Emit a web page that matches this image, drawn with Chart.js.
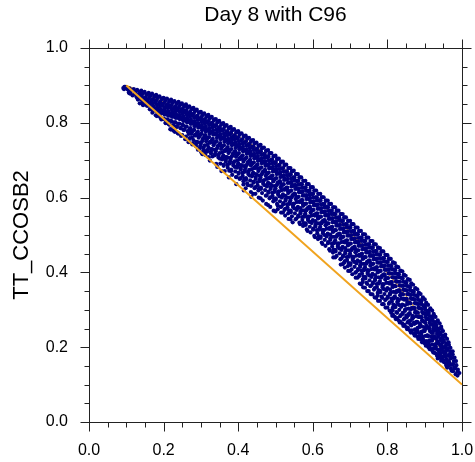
<!DOCTYPE html>
<html><head><meta charset="utf-8">
<script src="https://cdn.jsdelivr.net/npm/chart.js@4.4.1/dist/chart.umd.min.js"></script>
<style>html,body{margin:0;padding:0;background:#fff;} canvas{display:block;}</style>
</head><body>
<canvas id="c" width="475" height="462"></canvas>
<script>
const titleText = 'Day 8 with C96';
const yTitle = 'TT_CCOSB2';
const majorTicks = [0, 0.2, 0.4, 0.6, 0.8, 1.0];
const minorTicks = [0.05,0.1,0.15,0.25,0.3,0.35,0.45,0.5,0.55,0.65,0.7,0.75,0.85,0.9,0.95];
const refLine = [[0.1,0.9],[1.0,0.1]];
const innerCurve = [[0.1,0.9],[0.2,0.855],[0.3,0.81],[0.42,0.752],[0.52,0.678],[0.6,0.605],[0.69,0.518],[0.79,0.41],[0.85,0.337],[0.9,0.265],[0.95,0.185],[0.985,0.14]];
const cloudA = [
[.092,.893],[.095,.896],[.094,.890],
[.100,.894],[.104,.889],[.097,.896],
[.109,.892],[.115,.886],[.108,.879],
[.120,.890],[.124,.881],[.117,.873],
[.129,.888],[.135,.878],[.128,.870],[.131,.862],
[.140,.886],[.144,.877],[.137,.868],[.142,.860],[.136,.852],
[.149,.883],[.155,.874],[.148,.866],[.151,.856],[.145,.847],
[.160,.880],[.164,.871],[.157,.862],[.162,.853],[.156,.845],[.163,.836],
[.169,.878],[.175,.869],[.168,.861],[.171,.851],[.165,.842],[.173,.833],[.170,.827],
[.180,.875],[.184,.866],[.177,.858],[.182,.848],[.176,.839],[.183,.829],[.179,.820],
[.189,.871],[.195,.863],[.188,.853],[.191,.844],[.185,.836],[.193,.826],[.190,.817],[.194,.809],
[.200,.867],[.204,.858],[.197,.850],[.202,.840],[.196,.831],[.203,.822],[.199,.811],[.205,.800],
[.209,.865],[.215,.856],[.208,.847],[.211,.839],[.205,.829],[.213,.819],[.210,.809],[.214,.796],
[.220,.862],[.224,.853],[.217,.845],[.222,.835],[.216,.826],[.223,.816],[.219,.806],[.225,.794],[.218,.783],
[.229,.858],[.235,.850],[.228,.840],[.231,.831],[.225,.823],[.233,.813],[.230,.801],[.234,.790],[.227,.779],
[.240,.856],[.244,.847],[.237,.838],[.242,.830],[.236,.820],[.243,.810],[.239,.797],[.245,.786],[.238,.772],
[.249,.852],[.255,.843],[.248,.835],[.251,.825],[.245,.816],[.253,.805],[.250,.795],[.254,.781],[.247,.765],
[.260,.849],[.264,.840],[.257,.832],[.262,.822],[.256,.812],[.263,.801],[.259,.790],[.265,.777],[.258,.756],
[.269,.844],[.275,.836],[.268,.826],[.271,.817],[.265,.808],[.273,.797],[.270,.784],[.274,.770],[.267,.748],
[.280,.840],[.284,.831],[.277,.823],[.282,.813],[.276,.803],[.283,.791],[.279,.780],[.285,.766],[.278,.745],
[.289,.835],[.295,.827],[.288,.817],[.291,.808],[.285,.799],[.293,.787],[.290,.774],[.294,.760],[.287,.743],[.292,.728],
[.300,.829],[.304,.820],[.297,.812],[.302,.802],[.296,.792],[.303,.780],[.299,.769],[.305,.756],[.298,.738],[.301,.721],
[.309,.825],[.315,.816],[.308,.808],[.311,.798],[.305,.787],[.313,.777],[.310,.766],[.314,.751],[.307,.734],[.312,.714],
[.320,.821],[.324,.812],[.317,.803],[.322,.794],[.316,.783],[.323,.771],[.319,.760],[.325,.747],[.318,.728],[.321,.708],
[.329,.816],[.335,.807],[.328,.799],[.331,.788],[.325,.778],[.333,.768],[.330,.755],[.334,.740],[.327,.723],
[.340,.810],[.344,.801],[.337,.793],[.342,.782],[.336,.772],[.343,.760],[.339,.749],[.345,.736],[.338,.717],[.341,.690],
[.349,.805],[.355,.796],[.348,.787],[.351,.778],[.345,.767],[.353,.756],[.350,.743],[.354,.730],[.347,.712],[.352,.691],
[.360,.799],[.364,.790],[.357,.782],[.362,.771],[.356,.761],[.363,.749],[.359,.738],[.365,.725],[.358,.707],[.361,.685],[.355,.671],
[.369,.794],[.375,.785],[.368,.776],[.371,.767],[.365,.756],[.373,.745],[.370,.732],[.374,.719],[.367,.702],[.372,.680],
[.380,.789],[.384,.780],[.377,.771],[.382,.761],[.376,.752],[.383,.740],[.379,.728],[.385,.713],[.378,.697],[.381,.675],[.375,.654],
[.389,.783],[.395,.774],[.388,.765],[.391,.756],[.385,.745],[.393,.733],[.390,.722],[.394,.709],[.387,.691],[.392,.670],
[.400,.778],[.404,.769],[.397,.760],[.402,.750],[.396,.741],[.403,.729],[.399,.716],[.405,.703],[.398,.686],[.401,.664],[.395,.636],
[.409,.772],[.415,.763],[.408,.754],[.411,.744],[.405,.734],[.413,.724],[.410,.711],[.414,.696],[.407,.680],[.412,.658],
[.420,.766],[.424,.757],[.417,.748],[.422,.739],[.416,.728],[.423,.717],[.419,.704],[.425,.691],[.418,.674],[.421,.652],[.415,.619],
[.429,.760],[.435,.751],[.428,.742],[.431,.732],[.425,.723],[.433,.711],[.430,.699],[.434,.686],[.427,.668],[.432,.646],
[.440,.754],[.444,.745],[.437,.736],[.442,.727],[.436,.716],[.443,.705],[.439,.692],[.445,.679],[.438,.662],[.441,.640],[.435,.602],
[.449,.747],[.455,.738],[.448,.730],[.451,.719],[.445,.709],[.453,.698],[.450,.686],[.454,.671],[.447,.655],[.452,.633],[.446,.610],
[.460,.741],[.464,.732],[.457,.723],[.462,.714],[.456,.703],[.463,.692],[.459,.679],[.465,.666],[.458,.649],[.461,.627],[.455,.600],
[.469,.734],[.475,.725],[.468,.716],[.471,.706],[.465,.697],[.473,.685],[.470,.673],[.474,.658],[.467,.642],[.472,.620],[.466,.592],
[.480,.727],[.484,.718],[.477,.710],[.482,.699],[.476,.689],[.483,.678],[.479,.665],[.485,.652],[.478,.635],[.481,.613],[.475,.583],
[.489,.719],[.495,.710],[.488,.701],[.491,.692],[.485,.681],[.493,.670],[.490,.658],[.494,.643],[.487,.627],[.492,.605],[.486,.575],
[.500,.712],[.504,.703],[.497,.694],[.502,.684],[.496,.675],[.503,.663],[.499,.650],[.505,.637],[.498,.620],[.501,.598],[.495,.565],
[.509,.704],[.515,.695],[.508,.687],[.511,.676],[.505,.666],[.513,.655],[.510,.643],[.514,.628],[.507,.612],[.512,.590],[.506,.569],
[.520,.696],[.524,.687],[.517,.678],[.522,.669],[.516,.658],[.523,.647],[.519,.634],[.525,.621],[.518,.604],[.521,.582],[.515,.560],
[.529,.688],[.535,.679],[.528,.670],[.531,.660],[.525,.651],[.533,.639],[.530,.627],[.534,.612],[.527,.596],[.532,.574],[.526,.552],
[.540,.679],[.544,.670],[.537,.662],[.542,.651],[.536,.641],[.543,.630],[.539,.617],[.545,.604],[.538,.587],[.541,.565],[.535,.543],
[.549,.672],[.555,.663],[.548,.654],[.551,.645],[.545,.634],[.553,.623],[.550,.611],[.554,.596],[.547,.580],[.552,.558],[.546,.534],
[.560,.663],[.564,.654],[.557,.645],[.562,.635],[.556,.626],[.563,.614],[.559,.601],[.565,.588],[.558,.571],[.561,.549],
[.569,.654],[.575,.645],[.568,.637],[.571,.626],[.565,.616],[.573,.605],[.570,.593],[.574,.578],[.567,.562],[.572,.540],[.566,.529],
[.580,.645],[.584,.636],[.577,.627],[.582,.618],[.576,.607],[.583,.596],[.579,.583],[.585,.570],[.578,.553],[.581,.531],
[.589,.636],[.595,.627],[.588,.618],[.591,.608],[.585,.599],[.593,.587],[.590,.575],[.594,.560],[.587,.544],[.592,.522],[.586,.511],
[.600,.628],[.604,.619],[.597,.611],[.602,.600],[.596,.590],[.603,.579],[.599,.567],[.605,.552],[.598,.536],[.601,.514],
[.609,.619],[.615,.610],[.608,.601],[.611,.592],[.605,.581],[.613,.570],[.610,.557],[.614,.544],[.607,.527],[.612,.505],[.606,.494],
[.620,.610],[.624,.601],[.617,.593],[.622,.582],[.616,.572],[.623,.561],[.619,.549],[.625,.534],[.618,.518],[.621,.496],
[.629,.601],[.635,.592],[.628,.583],[.631,.574],[.625,.563],[.633,.552],[.630,.539],[.634,.526],[.627,.509],[.632,.487],[.626,.476],
[.640,.592],[.644,.583],[.637,.575],[.642,.564],[.636,.554],[.643,.543],[.639,.531],[.645,.516],[.638,.500],[.641,.478],
[.649,.583],[.655,.574],[.648,.565],[.651,.556],[.645,.545],[.653,.534],[.650,.521],[.654,.508],[.647,.491],[.652,.469],[.646,.458],
[.660,.574],[.664,.565],[.657,.557],[.662,.546],[.656,.536],[.663,.525],[.659,.513],[.665,.498],[.658,.482],[.661,.460],[.655,.440],
[.669,.565],[.675,.556],[.668,.547],[.671,.538],[.665,.527],[.673,.516],[.670,.503],[.674,.490],[.667,.473],[.672,.451],
[.680,.556],[.684,.547],[.677,.539],[.682,.528],[.676,.518],[.683,.507],[.679,.495],[.685,.480],[.678,.464],[.681,.442],[.675,.421],
[.689,.547],[.695,.538],[.688,.529],[.691,.520],[.685,.509],[.693,.498],[.690,.485],[.694,.472],[.687,.455],[.692,.433],[.686,.413],
[.700,.538],[.704,.529],[.697,.521],[.702,.510],[.696,.500],[.703,.489],[.699,.477],[.705,.462],[.698,.446],[.701,.424],[.695,.404],
[.709,.529],[.715,.520],[.708,.511],[.711,.502],[.705,.491],[.713,.480],[.710,.467],[.714,.454],[.707,.437],[.712,.415],[.706,.395],
[.720,.520],[.724,.511],[.717,.503],[.722,.492],[.716,.482],[.723,.471],[.719,.459],[.725,.444],[.718,.428],[.721,.406],[.715,.386],
[.729,.511],[.735,.502],[.728,.493],[.731,.484],[.725,.473],[.733,.462],[.730,.449],[.734,.436],[.727,.419],[.732,.397],[.726,.370],
[.740,.502],[.744,.493],[.737,.485],[.742,.474],[.736,.464],[.743,.453],[.739,.441],[.745,.426],[.738,.410],[.741,.388],[.735,.360],
[.749,.493],[.755,.484],[.748,.475],[.751,.466],[.745,.455],[.753,.444],[.750,.431],[.754,.418],[.747,.401],[.752,.379],[.746,.350],
[.760,.484],[.764,.475],[.757,.467],[.762,.456],[.756,.446],[.763,.435],[.759,.423],[.765,.408],[.758,.392],[.761,.370],[.755,.342],
[.769,.475],[.775,.466],[.768,.457],[.771,.448],[.765,.437],[.773,.426],[.770,.413],[.774,.400],[.767,.383],[.772,.361],[.766,.333],
[.780,.465],[.784,.456],[.777,.448],[.782,.437],[.776,.427],[.783,.416],[.779,.404],[.785,.389],[.778,.373],[.781,.351],[.775,.324],
[.789,.456],[.795,.447],[.788,.438],[.791,.429],[.785,.418],[.793,.407],[.790,.394],[.794,.381],[.787,.364],[.792,.342],[.786,.315],
[.800,.446],[.804,.437],[.797,.429],[.802,.418],[.796,.408],[.803,.397],[.799,.385],[.805,.370],[.798,.354],[.801,.332],[.795,.306],
[.809,.436],[.815,.427],[.808,.418],[.811,.409],[.805,.398],[.813,.387],[.810,.374],[.814,.361],[.807,.344],[.812,.322],[.806,.298],[.813,.284],
[.820,.425],[.824,.416],[.817,.408],[.822,.397],[.816,.387],[.823,.376],[.819,.364],[.825,.349],[.818,.333],[.821,.311],[.815,.287],[.823,.275],
[.829,.414],[.835,.405],[.828,.396],[.831,.387],[.825,.376],[.833,.365],[.830,.352],[.834,.339],[.827,.322],[.832,.300],[.826,.278],[.833,.266],
[.840,.403],[.844,.394],[.837,.386],[.842,.375],[.836,.365],[.843,.354],[.839,.342],[.845,.327],[.838,.311],[.841,.289],[.835,.268],[.843,.257],
[.849,.391],[.855,.382],[.848,.373],[.851,.364],[.845,.353],[.853,.342],[.850,.329],[.854,.316],[.847,.300],[.852,.280],[.846,.260],[.853,.248],
[.860,.380],[.864,.371],[.857,.363],[.862,.352],[.856,.342],[.863,.331],[.859,.319],[.865,.304],[.858,.290],[.861,.271],[.855,.252],[.863,.239],
[.869,.367],[.875,.358],[.868,.349],[.871,.340],[.865,.329],[.873,.318],[.870,.305],[.874,.293],[.867,.279],[.872,.262],[.866,.245],[.873,.231],
[.880,.355],[.884,.346],[.877,.338],[.882,.327],[.876,.317],[.883,.306],[.879,.294],[.885,.282],[.878,.268],[.881,.252],[.875,.236],[.883,.222],
[.889,.342],[.895,.333],[.888,.324],[.891,.315],[.885,.304],[.893,.294],[.890,.282],[.894,.271],[.887,.257],[.892,.242],[.886,.226],[.893,.213],
[.900,.328],[.904,.319],[.897,.311],[.902,.300],[.896,.290],[.903,.280],[.899,.268],[.905,.257],[.898,.244],[.901,.230],[.895,.216],[.903,.204],
[.909,.313],[.915,.304],[.908,.295],[.911,.286],[.905,.275],[.913,.265],[.910,.253],[.914,.243],[.907,.231],[.912,.218],[.906,.205],[.913,.195],
[.920,.298],[.924,.289],[.917,.281],[.922,.270],[.916,.260],[.923,.250],[.919,.239],[.925,.229],[.918,.218],[.921,.207],[.915,.196],[.923,.186],
[.929,.281],[.935,.272],[.928,.263],[.931,.255],[.925,.245],[.933,.235],[.930,.224],[.934,.215],[.927,.205],[.932,.195],[.926,.185],[.933,.177],
[.940,.264],[.944,.255],[.937,.247],[.942,.237],[.936,.228],[.943,.219],[.939,.209],[.945,.200],[.938,.190],[.941,.180],[.935,.170],
[.949,.243],[.955,.234],[.948,.226],[.951,.216],[.945,.207],[.953,.198],[.950,.188],[.954,.180],[.947,.170],[.952,.160],
[.960,.222],[.964,.213],[.957,.205],[.962,.195],[.956,.186],[.963,.177],[.959,.167],[.965,.159],[.958,.151],
[.969,.198],[.975,.189],[.968,.181],[.971,.171],[.965,.162],[.973,.153],[.970,.143],
[.980,.172],[.984,.163],[.977,.155],[.982,.145],[.976,.136],
[.989,.140],[.993,.131],[.988,.124]
];
const cloudB = [
[.105,.889],[.107,.882],
[.115,.887],[.111,.878],
[.125,.885],[.121,.876],[.128,.868],
[.135,.883],[.131,.874],[.138,.864],
[.145,.880],[.141,.871],[.148,.861],[.143,.852],
[.155,.877],[.151,.868],[.158,.858],[.153,.848],
[.165,.875],[.161,.866],[.168,.856],[.163,.846],[.169,.836],
[.175,.872],[.171,.863],[.178,.853],[.173,.843],[.179,.832],
[.185,.869],[.181,.860],[.188,.850],[.183,.840],[.189,.829],[.182,.818],
[.195,.865],[.191,.856],[.198,.846],[.193,.836],[.199,.825],[.192,.813],
[.205,.862],[.201,.853],[.208,.843],[.203,.833],[.209,.822],[.202,.810],[.206,.799],
[.215,.859],[.211,.850],[.218,.840],[.213,.830],[.219,.819],[.212,.807],[.216,.795],
[.225,.856],[.221,.847],[.228,.837],[.223,.827],[.229,.816],[.222,.804],[.226,.792],[.220,.782],
[.235,.853],[.231,.844],[.238,.834],[.233,.824],[.239,.813],[.232,.801],[.236,.789],[.230,.776],
[.245,.850],[.241,.841],[.248,.831],[.243,.821],[.249,.810],[.242,.798],[.246,.786],[.240,.771],
[.255,.846],[.251,.837],[.258,.827],[.253,.817],[.259,.806],[.252,.794],[.256,.782],[.250,.767],
[.265,.842],[.261,.833],[.268,.823],[.263,.813],[.269,.802],[.262,.790],[.266,.778],[.260,.763],[.267,.752],
[.275,.838],[.271,.829],[.278,.819],[.273,.809],[.279,.798],[.272,.786],[.276,.774],[.270,.759],[.277,.742],
[.285,.833],[.281,.824],[.288,.814],[.283,.804],[.289,.793],[.282,.781],[.286,.769],[.280,.754],[.287,.737],
[.295,.828],[.291,.819],[.298,.809],[.293,.799],[.299,.788],[.292,.776],[.296,.764],[.290,.749],[.297,.732],
[.305,.823],[.301,.814],[.308,.804],[.303,.794],[.309,.783],[.302,.771],[.306,.759],[.300,.744],[.307,.727],[.304,.716],
[.315,.819],[.311,.810],[.318,.800],[.313,.790],[.319,.779],[.312,.767],[.316,.755],[.310,.740],[.317,.723],
[.325,.814],[.321,.805],[.328,.795],[.323,.785],[.329,.774],[.322,.762],[.326,.750],[.320,.735],[.327,.718],[.324,.699],
[.335,.809],[.331,.800],[.338,.790],[.333,.780],[.339,.769],[.332,.757],[.336,.745],[.330,.730],[.337,.713],
[.345,.803],[.341,.794],[.348,.784],[.343,.774],[.349,.763],[.342,.751],[.346,.739],[.340,.724],[.347,.707],[.344,.682],
[.355,.798],[.351,.789],[.358,.779],[.353,.769],[.359,.758],[.352,.746],[.356,.734],[.350,.719],[.357,.702],
[.365,.792],[.361,.783],[.368,.773],[.363,.763],[.369,.752],[.362,.740],[.366,.728],[.360,.713],[.367,.696],[.364,.671],
[.375,.787],[.371,.778],[.378,.768],[.373,.758],[.379,.747],[.372,.735],[.376,.723],[.370,.708],[.377,.691],
[.385,.782],[.381,.773],[.388,.763],[.383,.753],[.389,.742],[.382,.730],[.386,.718],[.380,.703],[.387,.686],[.384,.661],
[.395,.776],[.391,.767],[.398,.757],[.393,.747],[.399,.736],[.392,.724],[.396,.712],[.390,.697],[.397,.680],[.394,.655],
[.405,.771],[.401,.762],[.408,.752],[.403,.742],[.409,.731],[.402,.719],[.406,.707],[.400,.692],[.407,.675],[.404,.650],
[.415,.765],[.411,.756],[.418,.746],[.413,.736],[.419,.725],[.412,.713],[.416,.701],[.410,.686],[.417,.669],[.414,.644],[.420,.625],
[.425,.759],[.421,.750],[.428,.740],[.423,.730],[.429,.719],[.422,.707],[.426,.695],[.420,.680],[.427,.663],[.424,.638],
[.435,.753],[.431,.744],[.438,.734],[.433,.724],[.439,.713],[.432,.701],[.436,.689],[.430,.674],[.437,.657],[.434,.632],[.440,.610],
[.445,.746],[.441,.737],[.448,.727],[.443,.717],[.449,.706],[.442,.694],[.446,.682],[.440,.667],[.447,.650],[.444,.625],
[.455,.740],[.451,.731],[.458,.721],[.453,.711],[.459,.700],[.452,.688],[.456,.676],[.450,.661],[.457,.644],[.454,.619],[.460,.598],
[.465,.733],[.461,.724],[.468,.714],[.463,.704],[.469,.693],[.462,.681],[.466,.669],[.460,.654],[.467,.637],[.464,.612],
[.475,.726],[.471,.717],[.478,.707],[.473,.697],[.479,.686],[.472,.674],[.476,.662],[.470,.647],[.477,.630],[.474,.605],[.480,.580],
[.485,.719],[.481,.710],[.488,.700],[.483,.690],[.489,.679],[.482,.667],[.486,.655],[.480,.640],[.487,.623],[.484,.598],
[.495,.711],[.491,.702],[.498,.692],[.493,.682],[.499,.671],[.492,.659],[.496,.647],[.490,.632],[.497,.615],[.494,.590],[.500,.563],
[.505,.704],[.501,.695],[.508,.685],[.503,.675],[.509,.664],[.502,.652],[.506,.640],[.500,.625],[.507,.608],[.504,.583],
[.515,.696],[.511,.687],[.518,.677],[.513,.667],[.519,.656],[.512,.644],[.516,.632],[.510,.617],[.517,.600],[.514,.575],[.520,.560],
[.525,.688],[.521,.679],[.528,.669],[.523,.659],[.529,.648],[.522,.636],[.526,.624],[.520,.609],[.527,.592],[.524,.567],
[.535,.679],[.531,.670],[.538,.660],[.533,.650],[.539,.639],[.532,.627],[.536,.615],[.530,.600],[.537,.583],[.534,.558],[.540,.542],
[.545,.671],[.541,.662],[.548,.652],[.543,.642],[.549,.631],[.542,.619],[.546,.607],[.540,.592],[.547,.575],[.544,.550],
[.555,.663],[.551,.654],[.558,.644],[.553,.634],[.559,.623],[.552,.611],[.556,.599],[.550,.584],[.557,.567],[.554,.542],
[.565,.654],[.561,.645],[.568,.635],[.563,.625],[.569,.614],[.562,.602],[.566,.590],[.560,.575],[.567,.558],[.564,.533],
[.575,.645],[.571,.636],[.578,.626],[.573,.616],[.579,.605],[.572,.593],[.576,.581],[.570,.566],[.577,.549],[.574,.524],
[.585,.636],[.581,.627],[.588,.617],[.583,.607],[.589,.596],[.582,.584],[.586,.572],[.580,.557],[.587,.540],[.584,.515],
[.595,.628],[.591,.619],[.598,.609],[.593,.599],[.599,.588],[.592,.576],[.596,.564],[.590,.549],[.597,.532],[.594,.507],
[.605,.619],[.601,.610],[.608,.600],[.603,.590],[.609,.579],[.602,.567],[.606,.555],[.600,.540],[.607,.523],[.604,.498],
[.615,.610],[.611,.601],[.618,.591],[.613,.581],[.619,.570],[.612,.558],[.616,.546],[.610,.531],[.617,.514],[.614,.489],
[.625,.601],[.621,.592],[.628,.582],[.623,.572],[.629,.561],[.622,.549],[.626,.537],[.620,.522],[.627,.505],[.624,.480],
[.635,.592],[.631,.583],[.638,.573],[.633,.563],[.639,.552],[.632,.540],[.636,.528],[.630,.513],[.637,.496],[.634,.471],
[.645,.583],[.641,.574],[.648,.564],[.643,.554],[.649,.543],[.642,.531],[.646,.519],[.640,.504],[.647,.487],[.644,.462],
[.655,.574],[.651,.565],[.658,.555],[.653,.545],[.659,.534],[.652,.522],[.656,.510],[.650,.495],[.657,.478],[.654,.453],[.660,.440],
[.665,.565],[.661,.556],[.668,.546],[.663,.536],[.669,.525],[.662,.513],[.666,.501],[.660,.486],[.667,.469],[.664,.444],
[.675,.556],[.671,.547],[.678,.537],[.673,.527],[.679,.516],[.672,.504],[.676,.492],[.670,.477],[.677,.460],[.674,.435],[.680,.422],
[.685,.547],[.681,.538],[.688,.528],[.683,.518],[.689,.507],[.682,.495],[.686,.483],[.680,.468],[.687,.451],[.684,.426],
[.695,.538],[.691,.529],[.698,.519],[.693,.509],[.699,.498],[.692,.486],[.696,.474],[.690,.459],[.697,.442],[.694,.417],[.700,.404],
[.705,.529],[.701,.520],[.708,.510],[.703,.500],[.709,.489],[.702,.477],[.706,.465],[.700,.450],[.707,.433],[.704,.408],
[.715,.520],[.711,.511],[.718,.501],[.713,.491],[.719,.480],[.712,.468],[.716,.456],[.710,.441],[.717,.424],[.714,.399],[.720,.386],
[.725,.511],[.721,.502],[.728,.492],[.723,.482],[.729,.471],[.722,.459],[.726,.447],[.720,.432],[.727,.415],[.724,.390],[.730,.368],
[.735,.502],[.731,.493],[.738,.483],[.733,.473],[.739,.462],[.732,.450],[.736,.438],[.730,.423],[.737,.406],[.734,.381],[.740,.359],
[.745,.493],[.741,.484],[.748,.474],[.743,.464],[.749,.453],[.742,.441],[.746,.429],[.740,.414],[.747,.397],[.744,.372],[.750,.350],
[.755,.484],[.751,.475],[.758,.465],[.753,.455],[.759,.444],[.752,.432],[.756,.420],[.750,.405],[.757,.388],[.754,.363],[.760,.341],
[.765,.475],[.761,.466],[.768,.456],[.763,.446],[.769,.435],[.762,.423],[.766,.411],[.760,.396],[.767,.379],[.764,.354],[.770,.332],
[.775,.466],[.771,.457],[.778,.447],[.773,.437],[.779,.426],[.772,.414],[.776,.402],[.770,.387],[.777,.370],[.774,.345],[.780,.324],
[.785,.456],[.781,.447],[.788,.437],[.783,.427],[.789,.416],[.782,.404],[.786,.392],[.780,.377],[.787,.360],[.784,.335],[.790,.315],
[.795,.447],[.791,.438],[.798,.428],[.793,.418],[.799,.407],[.792,.395],[.796,.383],[.790,.368],[.797,.351],[.794,.326],[.800,.306],
[.805,.437],[.801,.428],[.808,.418],[.803,.408],[.809,.397],[.802,.385],[.806,.373],[.800,.358],[.807,.341],[.804,.316],[.810,.292],
[.815,.426],[.811,.417],[.818,.407],[.813,.397],[.819,.386],[.812,.374],[.816,.362],[.810,.347],[.817,.330],[.814,.305],[.820,.281],
[.825,.415],[.821,.406],[.828,.396],[.823,.386],[.829,.375],[.822,.363],[.826,.351],[.820,.336],[.827,.319],[.824,.294],[.830,.272],
[.835,.404],[.831,.395],[.838,.385],[.833,.375],[.839,.364],[.832,.352],[.836,.340],[.830,.325],[.837,.308],[.834,.283],[.840,.263],
[.845,.393],[.841,.384],[.848,.374],[.843,.364],[.849,.353],[.842,.341],[.846,.329],[.840,.314],[.847,.297],[.844,.274],[.850,.254],
[.855,.381],[.851,.372],[.858,.362],[.853,.352],[.859,.341],[.852,.329],[.856,.317],[.850,.302],[.857,.286],[.854,.266],[.860,.245],
[.865,.369],[.861,.360],[.868,.350],[.863,.340],[.869,.329],[.862,.317],[.866,.305],[.860,.291],[.867,.276],[.864,.258],[.870,.237],
[.875,.357],[.871,.348],[.878,.338],[.873,.328],[.879,.317],[.872,.305],[.876,.293],[.870,.280],[.877,.265],[.874,.248],[.880,.228],
[.885,.344],[.881,.335],[.888,.325],[.883,.315],[.889,.304],[.882,.292],[.886,.281],[.880,.268],[.887,.254],[.884,.238],[.890,.220],
[.895,.331],[.891,.322],[.898,.312],[.893,.302],[.899,.291],[.892,.280],[.896,.269],[.890,.257],[.897,.243],[.894,.228],[.900,.211],
[.905,.316],[.901,.307],[.908,.297],[.903,.287],[.909,.276],[.902,.265],[.906,.254],[.900,.243],[.907,.230],[.904,.216],[.910,.200],
[.915,.301],[.911,.292],[.918,.282],[.913,.272],[.919,.262],[.912,.252],[.916,.241],[.910,.230],[.917,.218],[.914,.205],[.920,.191],
[.925,.285],[.921,.276],[.928,.267],[.923,.258],[.929,.248],[.922,.238],[.926,.228],[.920,.218],[.927,.207],[.924,.196],[.930,.183],
[.935,.268],[.931,.259],[.938,.250],[.933,.241],[.939,.232],[.932,.222],[.936,.212],[.930,.202],[.937,.192],[.934,.181],[.940,.172],
[.945,.249],[.941,.240],[.948,.231],[.943,.222],[.949,.213],[.942,.204],[.946,.194],[.940,.184],[.947,.174],[.944,.164],
[.955,.228],[.951,.219],[.958,.210],[.953,.201],[.959,.192],[.952,.183],[.956,.174],[.950,.165],[.957,.156],
[.965,.206],[.961,.197],[.968,.188],[.963,.179],[.969,.170],[.962,.161],[.966,.152],[.960,.145],
[.975,.181],[.971,.172],[.978,.163],[.973,.154],[.979,.145],[.972,.137],
[.985,.152],[.981,.143],[.988,.135],[.983,.128]
];
const cloudC = [
[.253,.782],[.267,.770],[.271,.779],[.276,.760],[.283,.766],[.287,.749],[.293,.765],[.297,.747],
[.303,.750],[.307,.733],[.313,.760],[.317,.741],[.311,.724],[.323,.747],[.327,.730],
[.333,.746],[.337,.728],[.331,.710],[.343,.731],[.347,.714],[.353,.740],[.357,.721],[.351,.704],
[.363,.725],[.367,.708],[.361,.688],[.373,.724],[.377,.706],[.371,.688],[.376,.672],
[.383,.710],[.387,.693],[.381,.671],[.393,.718],[.397,.699],[.391,.682],[.396,.655],
[.403,.704],[.407,.687],[.401,.667],[.406,.652],[.413,.702],[.417,.684],[.411,.666],[.416,.650],[.414,.635],
[.423,.687],[.427,.670],[.421,.648],[.426,.633],[.433,.695],[.437,.676],[.431,.659],[.436,.632],[.434,.615],
[.443,.680],[.447,.663],[.441,.643],[.446,.628],[.453,.677],[.457,.659],[.451,.641],[.456,.625],
[.463,.662],[.467,.645],[.461,.623],[.473,.669],[.477,.650],[.471,.633],[.476,.606],
[.483,.653],[.487,.636],[.481,.616],[.486,.601],[.493,.649],[.497,.631],[.491,.613],[.496,.597],
[.503,.633],[.507,.616],[.501,.594],[.506,.579],[.513,.639],[.517,.620],[.511,.603],[.516,.576],
[.523,.622],[.527,.605],[.521,.585],[.526,.570],[.533,.618],[.537,.600],[.531,.582],[.536,.566],
[.543,.600],[.547,.583],[.541,.561],[.553,.607],[.557,.588],[.551,.571],[.556,.544],
[.563,.589],[.567,.572],[.561,.552],[.573,.584],[.577,.566],[.571,.548],[.576,.532],
[.583,.566],[.587,.549],[.581,.527],[.593,.571],[.597,.552],[.591,.535],
[.603,.554],[.607,.537],[.601,.517],[.613,.549],[.617,.531],[.611,.513],[.616,.497],
[.623,.531],[.627,.514],[.621,.492],[.633,.536],[.637,.517],[.631,.500],
[.643,.518],[.647,.501],[.641,.481],[.653,.513],[.657,.495],[.651,.477],[.656,.461],
[.663,.495],[.667,.478],[.661,.456],[.673,.500],[.677,.481],[.671,.464],[.676,.437],
[.683,.482],[.687,.465],[.681,.445],[.686,.430],[.693,.477],[.697,.459],[.691,.441],[.696,.425],
[.703,.459],[.707,.442],[.701,.420],[.713,.464],[.717,.445],[.711,.428],[.716,.401],
[.723,.446],[.727,.429],[.721,.409],[.726,.394],[.733,.441],[.737,.423],[.731,.405],[.736,.389],[.734,.374],
[.743,.423],[.747,.406],[.741,.384],[.746,.369],[.753,.428],[.757,.409],[.751,.392],[.756,.365],
[.763,.410],[.767,.393],[.761,.373],[.766,.358],[.773,.405],[.777,.387],[.771,.369],[.776,.353],[.774,.338],
[.783,.386],[.787,.369],[.781,.347],[.786,.332],[.793,.391],[.797,.372],[.791,.355],[.796,.328],
[.803,.372],[.807,.355],[.801,.335],[.806,.320],[.813,.366],[.817,.348],[.811,.330],[.816,.314],[.814,.299],
[.823,.346],[.827,.329],[.821,.307],[.826,.292],[.833,.349],[.837,.330],[.831,.313],[.836,.286],
[.843,.329],[.847,.312],[.841,.292],[.846,.277],[.853,.321],[.857,.303],[.851,.285],[.856,.269],
[.863,.301],[.867,.284],[.861,.262],[.873,.302],[.877,.283],[.871,.266],[.876,.239],
[.883,.281],[.887,.264],[.881,.244],[.886,.229],[.893,.272],[.897,.254],[.891,.236],[.896,.220],
[.903,.249],[.907,.232],[.901,.210],[.913,.248],[.917,.229],[.911,.212],
[.923,.224],[.927,.207],[.933,.211],[.937,.193],[.943,.185]
];

const NAVY = 'rgb(0,0,128)';
const ORANGE = 'rgb(240,163,30)';
const toXY = a => a.map(p => ({x: p[0], y: p[1]}));

const frameTicks = {
  id: 'frameTicks',
  afterDraw(chart) {
    const {ctx, chartArea: a, scales: {x, y}} = chart;
    ctx.save();
    ctx.strokeStyle = '#222';
    ctx.lineWidth = 1;
    const L = Math.round(a.left) + 0.5, R = Math.round(a.right) + 0.5;
    const T = Math.round(a.top) + 0.5, B = Math.round(a.bottom) + 0.5;
    ctx.strokeRect(L, T, R - L, B - T);
    const draw = (vals, len) => {
      ctx.beginPath();
      vals.forEach(v => {
        const px = Math.round(x.getPixelForValue(v)) + 0.5;
        const py = Math.round(y.getPixelForValue(v)) + 0.5;
        ctx.moveTo(px, B); ctx.lineTo(px, B + len);
        ctx.moveTo(px, T); ctx.lineTo(px, T - len);
        ctx.moveTo(L, py); ctx.lineTo(L - len, py);
        ctx.moveTo(R, py); ctx.lineTo(R + len, py);
      });
      ctx.stroke();
    };
    draw(majorTicks, 9);
    draw(minorTicks, 5);
    ctx.fillStyle = '#000';
    ctx.font = "21px 'Liberation Sans', Arial, Helvetica, sans-serif";
    ctx.textAlign = 'center';
    ctx.textBaseline = 'alphabetic';
    ctx.fillText(titleText, (a.left + a.right) / 2, 21);
    ctx.restore();
  }
};

Chart.defaults.font.family = "'Liberation Sans', Arial, Helvetica, sans-serif";
Chart.defaults.color = '#000';

const dotStyle = {pointBackgroundColor: NAVY, pointBorderWidth: 0, pointRadius: 2.1};

new Chart(document.getElementById('c'), {
  type: 'scatter',
  data: {
    datasets: [
      {type: 'line', data: toXY(refLine), borderColor: ORANGE, borderWidth: 2, pointRadius: 0, fill: false, order: 0},
      Object.assign({data: toXY(cloudA), order: 1}, dotStyle),
      Object.assign({data: toXY(cloudB), order: 2}, dotStyle),
      Object.assign({data: toXY(cloudC), order: 3}, dotStyle),
      {type: 'line', data: toXY(innerCurve), borderColor: ORANGE, borderWidth: 1.2, pointRadius: 0, tension: 0.4, fill: false, order: 4}
    ]
  },
  options: {
    responsive: false,
    animation: false,
    devicePixelRatio: 1,
    layout: {padding: {left: 0, right: 13, top: 48, bottom: 0}},
    plugins: {
      legend: {display: false},
      tooltip: {enabled: false},
      title: {display: false}
    },
    scales: {
      x: {
        type: 'linear', min: 0, max: 1,
        afterBuildTicks: s => { s.ticks = majorTicks.map(v => ({value: v})); },
        ticks: {callback: v => Number(v).toFixed(1), font: {size: 16}, color: '#000', padding: 10, maxRotation: 0, autoSkip: false},
        grid: {drawOnChartArea: false, drawTicks: true, tickLength: 9, tickColor: 'rgba(0,0,0,0)'},
        border: {display: false},
        afterFit: s => { s.height = 40; s.paddingLeft = 0; s.paddingRight = 0; }
      },
      y: {
        type: 'linear', min: 0, max: 1,
        afterBuildTicks: s => { s.ticks = majorTicks.map(v => ({value: v})); },
        ticks: {callback: v => Number(v).toFixed(1), font: {size: 16}, color: '#000', padding: 12, autoSkip: false},
        grid: {drawOnChartArea: false, drawTicks: true, tickLength: 9, tickColor: 'rgba(0,0,0,0)'},
        border: {display: false},
        title: {display: true, text: yTitle, color: '#000', font: {size: 22}, padding: {top: 9, bottom: 0}},
        afterFit: s => { s.width = 89; s.paddingTop = 0; s.paddingBottom = 0; }
      }
    }
  },
  plugins: [frameTicks]
});
</script>
</body></html>
